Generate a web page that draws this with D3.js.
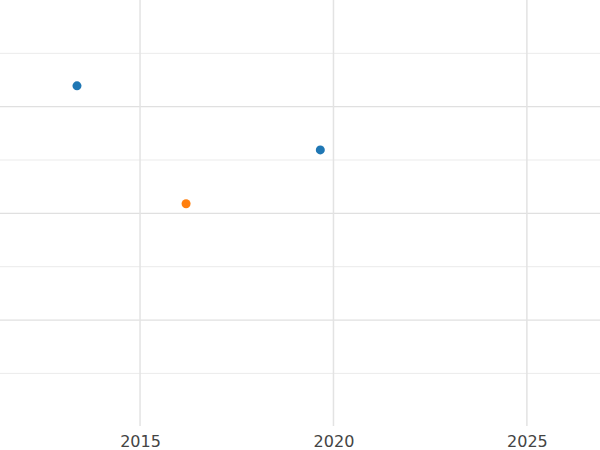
<!DOCTYPE html><html><head><script src="https://cdn.jsdelivr.net/npm/d3@7"></script>
<style>body{margin:0}</style></head><body><svg id="c" width="600" height="450"></svg><script>
const xTicks=[2015,2020,2025];
const yGrid=[1,2,3,4,5,6,7];
const seriesA=[{x:2013.37,y:6.39},{x:2019.66,y:5.19}];
const seriesB=[{x:2016.19,y:4.18}];
const svg=d3.select("#c");
const x=d3.scaleLinear().domain([2011.38,2026.89]).range([0,600]);
const y=d3.scaleLinear().domain([0,8]).range([426.7,0]);
svg.append("rect").attr("width",600).attr("height",450).attr("fill","#fff");
svg.selectAll(".hg").data(yGrid).enter().append("line").attr("x1",0).attr("x2",600)
 .attr("y1",d=>y(d)).attr("y2",d=>y(d)).attr("stroke",d=>d%2?"#ebebeb":"#e0e0e0").attr("stroke-width",d=>d%2?1:1.3);
svg.selectAll(".vg").data(xTicks).enter().append("line").attr("y1",0).attr("y2",426)
 .attr("x1",d=>x(d)).attr("x2",d=>x(d)).attr("stroke","#e3e3e3").attr("stroke-width",1.5);
const ax=svg.append("g").attr("transform","translate(0,426)").call(d3.axisBottom(x).tickValues(xTicks).tickFormat(d3.format("d")).tickSize(0).tickPadding(10));
ax.select(".domain").remove();
ax.selectAll("text").attr("font-family","DejaVu Sans").attr("font-size",16).attr("fill","#444");
svg.selectAll(".a").data(seriesA).enter().append("circle").attr("cx",d=>x(d.x)).attr("cy",d=>y(d.y)).attr("r",4.5).attr("fill","#1f77b4");
svg.selectAll(".b").data(seriesB).enter().append("circle").attr("cx",d=>x(d.x)).attr("cy",d=>y(d.y)).attr("r",4.5).attr("fill","#ff7f0e");
</script></body></html>
